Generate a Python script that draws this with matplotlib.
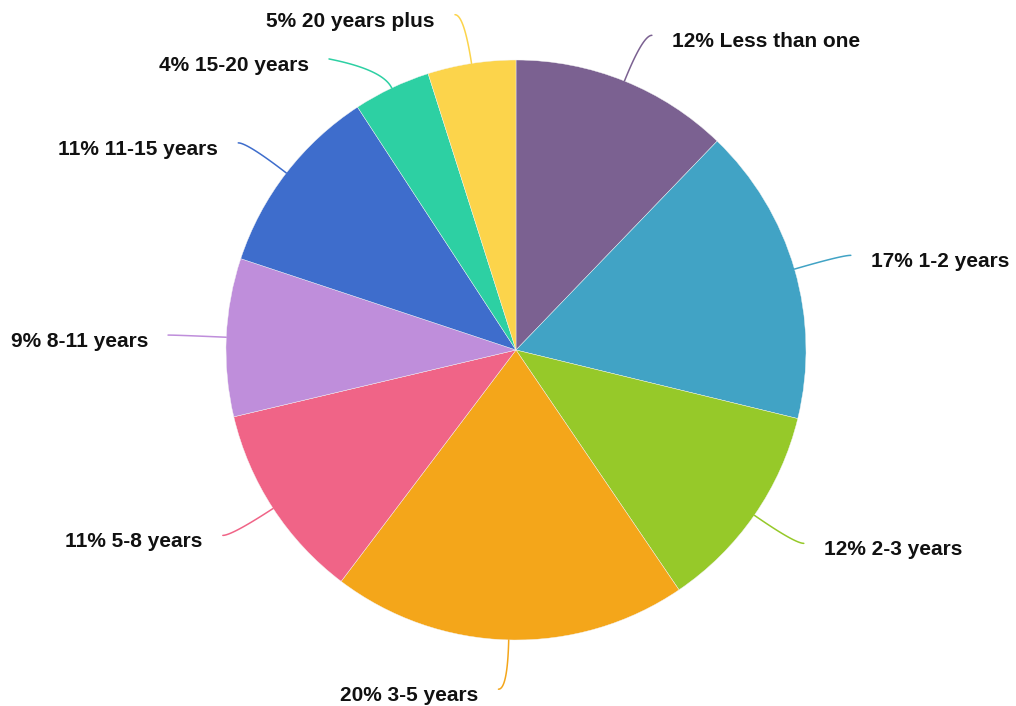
import numpy as np
import matplotlib
matplotlib.use("Agg")
import matplotlib.pyplot as plt

categories = ["Less than one", "1-2 years", "2-3 years", "3-5 years", "5-8 years",
              "8-11 years", "11-15 years", "15-20 years", "20 years plus"]
values = [12.2, 16.6, 11.7, 19.8, 11.0, 8.8, 10.7, 4.3, 4.9]
colors = ["#7b6191", "#41a3c5", "#96c929", "#f4a61a", "#f06487",
          "#bf8edb", "#3e6dcc", "#2dd0a3", "#fcd44b"]
# label line tweaks: (radial factor of bend point, extra dx px, extra dy px)
line_tweaks = {"15-20 years": (1.07, 45.0, 10.7)}

W, H = 1016, 706
fig = plt.figure(figsize=(W / 100, H / 100), dpi=100)
ax = fig.add_axes([0, 0, 1, 1])
cx, cy, R = 516, H - 350, 290

wedges, _ = ax.pie(values, colors=colors, startangle=90, counterclock=False,
                   center=(cx, cy), radius=R,
                   wedgeprops=dict(edgecolor="#f4f4f4", linewidth=0.3))
ax.set_xlim(0, W)
ax.set_ylim(0, H)
ax.set_aspect("equal")
ax.axis("off")

total = sum(values)
for w, cat, v, col in zip(wedges, categories, values, colors):
    mid = np.deg2rad((w.theta1 + w.theta2) / 2)
    c, s = np.cos(mid), np.sin(mid)
    side = 1 if c >= 0 else -1
    rf, ddx, ddy = line_tweaks.get(cat, (1.17, 0.0, 0.0))
    p0 = np.array([cx + R * c, cy + R * s])
    p1 = np.array([cx + R * rf * c, cy + R * rf * s])
    p2 = p1 + np.array([side * (9 + ddx), ddy])
    t = np.linspace(0, 1, 40)[:, None]
    pts = (1 - t) ** 2 * p0 + 2 * (1 - t) * t * p1 + t ** 2 * p2
    ax.plot(pts[:, 0], pts[:, 1], color=col, lw=1.1, solid_capstyle="round")
    pct = int(round(v / total * 100))
    ax.text(p2[0] + side * 20, p2[1] - 12, f"{pct}% {cat}",
            ha="left" if side > 0 else "right", va="baseline",
            fontsize=15, fontweight="bold", family="Liberation Sans",
            color="#111111")

fig.savefig("out.png", dpi=100)
